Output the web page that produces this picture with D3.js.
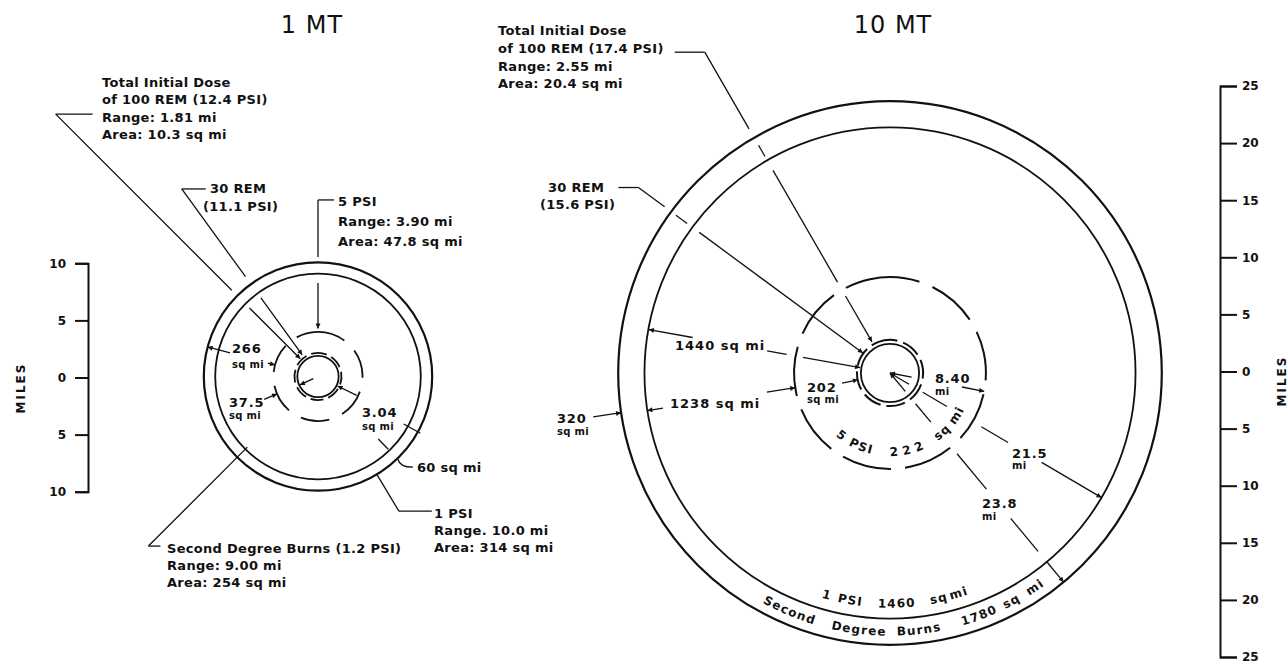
<!DOCTYPE html>
<html lang="en">
<head>
<meta charset="UTF-8" />
<title>1 MT and 10 MT effects</title>
<style>
  body { margin: 0; background: #fff; }
  #chart { display: block; }
  text { font-family: "DejaVu Sans", sans-serif; fill: #111; }
  .title { font-size: 24px; letter-spacing: 1px; }
  .lbl { font-size: 13px; font-weight: bold; letter-spacing: 0.3px; }
  .wide { font-size: 13px; font-weight: bold; letter-spacing: 1px; }
  .num { font-size: 13px; font-weight: bold; letter-spacing: 0.8px; }
  .unit { font-size: 10px; font-weight: bold; letter-spacing: 0.3px; }
  .arc { font-size: 12px; font-weight: bold; letter-spacing: 1.2px; }
  .axis text { font-family: "DejaVu Sans", sans-serif; font-size: 12px; font-weight: bold; }
  .miles { font-size: 12px; font-weight: bold; letter-spacing: 2px; }
</style>
</head>
<body>
<svg id="chart" width="1288" height="663"></svg>
<script src="https://d3js.org/d3.v7.min.js"></script>
<script>
// ---- data ----
const titles = ["1 MT", "10 MT"];
// ranges in miles: 100 REM, 30 REM, 5 PSI, second degree burns, 1 PSI
const range1MT = [1.81, 2.06, 3.90, 9.00, 10.0];
const range10MT = [2.55, 2.90, 8.40, 23.8, 21.5];
const ticksLeft = [-10, -5, 0, 5, 10];
const ticksRight = [-25, -20, -15, -10, -5, 0, 5, 10, 15, 20, 25];

const dose1MT = ["Total Initial Dose", "of 100 REM (12.4 PSI)", "Range: 1.81 mi", "Area: 10.3 sq mi"];
const rem1MT = ["30 REM", "(11.1 PSI)"];
const psi5_1MT = ["5 PSI", "Range: 3.90 mi", "Area: 47.8 sq mi"];
const burns1MT = ["Second Degree Burns (1.2 PSI)", "Range: 9.00 mi", "Area: 254 sq mi"];
const psi1_1MT = ["1 PSI", "Range. 10.0 mi", "Area: 314 sq mi"];
const areas1MT = ["266", "37.5", "3.04", "60 sq mi"];

const dose10MT = ["Total Initial Dose", "of 100 REM (17.4 PSI)", "Range: 2.55 mi", "Area: 20.4 sq mi"];
const rem10MT = ["30 REM", "(15.6 PSI)"];
const areas10MT = ["1440 sq mi", "1238 sq mi", "202", "320"];
const dists10MT = ["8.40", "21.5", "23.8"];
// words of the labels written along the 10 MT rings
const arcWords5psi = ["5", "PSI", "222", "sq", "mi"];
const arcWords1psi = ["1", "PSI", "1460", "sq", "mi"];
const arcWordsBurns = ["Second", "Degree", "Burns", "1780", "sq", "mi"];

// ---- setup ----
const svg = d3.select("#chart");
svg.append("rect").attr("width", 1288).attr("height", 663).attr("fill", "#fff");

const mi = d3.scaleLinear().domain([0, 1]).range([0, 11.42]); // miles -> px
const c1 = { x: 318, y: 376.5 };
const c2 = { x: 890, y: 373 };

const defs = svg.append("defs");
defs.append("marker")
  .attr("id", "arr")
  .attr("viewBox", "0 0 10 10")
  .attr("refX", 10).attr("refY", 5)
  .attr("markerWidth", 8).attr("markerHeight", 5)
  .attr("markerUnits", "userSpaceOnUse")
  .attr("orient", "auto-start-reverse")
  .append("path").attr("d", "M0,0L10,5L0,10z").attr("fill", "#111");

const pol = (c, m, deg) => [
  c.x + mi(m) * Math.cos(deg * Math.PI / 180),
  c.y + mi(m) * Math.sin(deg * Math.PI / 180)
];

const g = svg.append("g");

// ---- rings ----
// style per ring: stroke width, dash array, dash start angle
const ringStyle1 = [
  { w: 1.8, dash: null, rot: 0 },
  { w: 1.8, dash: "13,5", rot: -100 },
  { w: 1.8, dash: "29,14", rot: -91 },
  { w: 1.8, dash: null, rot: 0 },
  { w: 2.2, dash: null, rot: 0 }
];
const ringStyle2 = [
  { w: 1.8, dash: null, rot: 0 },
  { w: 2, dash: "19,6", rot: -110 },
  { w: 2, dash: "50,14", rot: -102 },
  { w: 2.2, dash: null, rot: 0 },
  { w: 1.8, dash: null, rot: 0 }
];

function rings(c, ranges, styles) {
  g.append("g").selectAll("circle")
    .data(ranges)
    .join("circle")
    .attr("cx", c.x).attr("cy", c.y)
    .attr("r", d => mi(d))
    .attr("fill", "none")
    .attr("stroke", "#111")
    .attr("stroke-width", (d, i) => styles[i].w)
    .attr("stroke-dasharray", (d, i) => styles[i].dash)
    .attr("transform", (d, i) => `rotate(${styles[i].rot},${c.x},${c.y})`);
}
rings(c1, range1MT, ringStyle1);
rings(c2, range10MT, ringStyle2);

// ---- leaders ----
// segs: [from miles, to miles, arrow at start, arrow at end]
function leader(c, deg, segs, w) {
  segs.forEach(([r0, r1, a0, a1]) => {
    const p0 = pol(c, r0, deg), p1 = pol(c, r1, deg);
    const l = g.append("line")
      .attr("x1", p0[0]).attr("y1", p0[1])
      .attr("x2", p1[0]).attr("y2", p1[1])
      .attr("stroke", "#111")
      .attr("stroke-width", w || 1.3);
    if (a0) l.attr("marker-start", "url(#arr)");
    if (a1) l.attr("marker-end", "url(#arr)");
  });
}
function tail(c, r, deg, dx) {
  const p = pol(c, r, deg);
  g.append("line")
    .attr("x1", p[0]).attr("y1", p[1])
    .attr("x2", p[0] + dx).attr("y2", p[1])
    .attr("stroke", "#111").attr("stroke-width", 1.3);
}
function block(lines, x, y, lh, cls, xs) {
  lines.forEach((t, i) => {
    g.append("text")
      .attr("class", cls)
      .attr("x", xs ? xs[i] : x)
      .attr("y", y + i * lh)
      .text(t);
  });
}

// 1 MT
leader(c1, -135, [[32.49, 10.68], [8.49, 2.19, 0, 1]]);
tail(c1, 32.49, -135, 37);
leader(c1, -126, [[20.3, 10.8], [8.5, 2.35, 0, 1]]);
tail(c1, 20.3, -126, 24);
leader(c1, -90, [[15.46, 10.46], [8.19, 4.2, 0, 1]]);
tail(c1, 15.46, -90, 16);
leader(c1, -165, [[7.97, 10.0, 0, 1], [4.55, 3.9, 0, 1]]);
leader(c1, 157, [[5.12, 3.9, 0, 1]]);
leader(c1, 155, [[0.45, 1.75, 0, 1]]);
leader(c1, 26, [[3.77, 1.9, 0, 1]]);
leader(c1, 29, [[8.58, 10.25]]);
leader(c1, 46, [[7.6, 8.85]]);
leader(c1, 59, [[10.0, 13.75]]);
tail(c1, 13.75, 59, 33);
leader(c1, 135, [[21.0, 8.75]]);
tail(c1, 21.0, 135, 12);
{
  const p = pol(c1, 10.07, 46);
  g.append("path")
    .attr("d", `M${p[0]},${p[1]}Q${p[0] + 2},${p[1] + 8} ${p[0] + 15},${p[1] + 8}`)
    .attr("fill", "none").attr("stroke", "#111").attr("stroke-width", 1.3);
}

// 10 MT
leader(c2, -120, [[32.44, 24.69], [23.03, 21.89], [20.49, 9.19], [7.79, 3.15, 0, 1]]);
tail(c2, 32.44, -120, -30);
leader(c2, -143.6, [[27.37, 24.52], [23.29, 22.07], [20.75, 2.95, 0, 1]]);
tail(c2, 27.37, -143.6, -20);
leader(c2, -169.8, [[17.56, 21.45, 0, 1], [10.93, 9.2], [7.75, 2.66, 0, 1]]);
leader(c2, 171.2, [[20.12, 21.5, 0, 1], [10.91, 8.4, 0, 1]]);
leader(c2, 168, [[4.29, 2.87, 0, 1]]);
leader(c2, 171.6, [[26.27, 23.8, 0, 1]]);
leader(c2, 11, [[0, 1.93, 1, 0], [6.42, 8.4, 0, 1]]);
leader(c2, 30.5, [[0, 1.93, 1, 0], [3.33, 5.78], [9.28, 12.0], [15.41, 21.5, 0, 1]]);
leader(c2, 50.3, [[0, 2.1, 1, 0], [3.5, 5.6], [9.19, 13.22], [16.55, 20.3], [21.54, 23.8, 0, 1]]);

// ---- texts ----
g.append("text").attr("class", "title").attr("x", 312).attr("y", 33)
  .attr("text-anchor", "middle").text(titles[0]);
g.append("text").attr("class", "title").attr("x", 893).attr("y", 33)
  .attr("text-anchor", "middle").text(titles[1]);

block(dose1MT, 102, 87, 17.3, "lbl");
block(rem1MT, 0, 193, 18, "lbl", [210, 203]);
block(psi5_1MT, 338, 206, 20, "lbl");
block(burns1MT, 167, 553, 17, "lbl");
block(psi1_1MT, 434, 518, 17, "lbl");
block([areas1MT[0]], 232, 353, 0, "num");
block(["sq mi"], 232, 368, 0, "unit");
block([areas1MT[1]], 229, 407, 0, "num");
block(["sq mi"], 229, 419, 0, "unit");
block([areas1MT[2]], 362, 417, 0, "num");
block(["sq mi"], 362, 430, 0, "unit");
block([areas1MT[3]], 417, 472, 0, "lbl");

block(dose10MT, 498, 35, 17.8, "lbl");
block(rem10MT, 0, 192, 17, "lbl", [548, 540]);
block([areas10MT[0]], 675, 350, 0, "wide");
block([areas10MT[1]], 670, 408, 0, "wide");
block([areas10MT[2]], 807, 392, 0, "num");
block(["sq mi"], 807, 403, 0, "unit");
block([areas10MT[3]], 557, 423, 0, "num");
block(["sq mi"], 557, 435, 0, "unit");
block([dists10MT[0]], 935, 383, 0, "num");
block(["mi"], 935, 395, 0, "unit");
block([dists10MT[1]], 1012, 458, 0, "num");
block(["mi"], 1012, 469, 0, "unit");
block([dists10MT[2]], 982, 508, 0, "num");
block(["mi"], 982, 520, 0, "unit");

// curved labels along the rings: baseline radius (mi), path start deg, path end deg, word start degs
const arcLayout = [
  { r: 7.27, a0: 140, a1: 20, at: [131, 120, 90, 55, 39], words: arcWords5psi },
  { r: 20.55, a0: 115, a1: 60, at: [107, 103, 93, 80, 75], words: arcWords1psi },
  { r: 23.0, a0: 125, a1: 45, at: [119, 103, 88.5, 74, 64, 58], words: arcWordsBurns }
];
arcLayout.forEach((a, i) => {
  const p0 = pol(c2, a.r, a.a0), p1 = pol(c2, a.r, a.a1);
  const id = "arcpath" + i;
  defs.append("path").attr("id", id)
    .attr("d", `M${p0[0]},${p0[1]}A${mi(a.r)},${mi(a.r)} 0 0 0 ${p1[0]},${p1[1]}`);
  a.words.forEach((w, j) => {
    g.append("text").attr("class", "arc")
      .style("letter-spacing", w === "222" ? "5px" : null)
      .append("textPath")
      .attr("href", "#" + id)
      .attr("startOffset", mi(a.r) * (a.a0 - a.at[j]) * Math.PI / 180)
      .text(w);
  });
});

// ---- axes ----
const zeroL = 377.5, zeroR = 371.5;
const yL = d3.scaleLinear().domain([-10, 10]).range([zeroL + mi(10), zeroL - mi(10)]);
const yR = d3.scaleLinear().domain([-25, 25]).range([zeroR + mi(25), zeroR - mi(25)]);

const axL = svg.append("g").attr("class", "axis").attr("transform", "translate(88,0)")
  .call(d3.axisLeft(yL).tickValues(ticksLeft).tickSize(13).tickPadding(9)
    .tickFormat(d => Math.abs(d)));
const axR = svg.append("g").attr("class", "axis").attr("transform", "translate(1220,0)")
  .call(d3.axisRight(yR).tickValues(ticksRight).tickSize(17).tickPadding(5)
    .tickFormat(d => Math.abs(d)));
[axL, axR].forEach(ax => {
  ax.selectAll("path, line").attr("stroke", "#111").attr("stroke-width", 2);
  ax.selectAll("text").attr("fill", "#111");
});

svg.append("text").attr("class", "miles")
  .attr("transform", "translate(25,388) rotate(-90)")
  .attr("text-anchor", "middle").text("MILES");
svg.append("text").attr("class", "miles")
  .attr("transform", "translate(1286,381) rotate(-90)")
  .attr("text-anchor", "middle").text("MILES");
</script>
</body>
</html>
